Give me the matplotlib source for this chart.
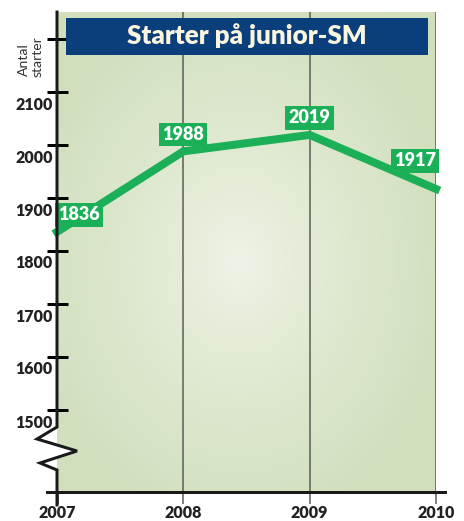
import numpy as np
import matplotlib
matplotlib.use("Agg")
import matplotlib.pyplot as plt
from matplotlib.transforms import Affine2D, ScaledTranslation
from matplotlib.patches import Rectangle, Polygon

# ---- data ----
years = [2007, 2008, 2009, 2010]
starts = [1836, 1988, 2019, 1917]
value_labels = ["1836", "1988", "2019", "1917"]
y_ticks = [1500, 1600, 1700, 1800, 1900, 2000, 2100, 2200]
y_tick_labels = ["1500", "1600", "1700", "1800", "1900", "2000", "2100", ""]
x_tick_labels = ["2007", "2008", "2009", "2010"]
title = "Starter på junior-SM"
ylabel_lines = ["Antal", "starter"]

W, H = 464, 521
DPI = 72
FONT = "Lato"
GREEN = "#1bb057"
NAVY = "#0b3f7c"

fig = plt.figure(figsize=(W / DPI, H / DPI), dpi=DPI)
fig.patch.set_facecolor("white")

PX = Affine2D().scale(1, -1).translate(0, H)

ax_l, ax_r, ax_t, ax_b = 57, 436, 12, 492
ax = fig.add_axes([ax_l / W, (H - ax_b) / H, (ax_r - ax_l) / W, (ax_b - ax_t) / H])
ymin = 1500 - (ax_b - 410) / 53 * 100
ymax = 2100 + (92 - ax_t) / 53 * 100
ax.set_xlim(2007, 2010)
ax.set_ylim(ymin, ymax)

# background radial gradient
ny, nx = 300, 300
yy, xx = np.mgrid[0:1:ny * 1j, 0:1:nx * 1j]
cx, cy = 0.48, 0.52
r = np.sqrt(((xx - cx) / 0.58) ** 2 + ((yy - cy) / 0.58) ** 2)
r = np.clip(r, 0, 1) ** 0.8
c_in = np.array([0xf0, 0xf4, 0xe8]) / 255
c_out = np.array([0xd1, 0xdf, 0xbd]) / 255
img = c_in[None, None, :] * (1 - r[..., None]) + c_out[None, None, :] * r[..., None]
ax.imshow(img, extent=[2007, 2010, ymin, ymax], aspect="auto", origin="upper", zorder=0)

for s in ax.spines.values():
    s.set_visible(False)

ax.set_xticks(years)
ax.set_xticklabels(x_tick_labels, fontsize=16, fontweight="heavy", family=FONT, color="#222222")
ax.grid(axis="x", color="#5a5a52", linewidth=1.5, zorder=1)
ax.grid(axis="y", visible=False)
ax.tick_params(axis="x", direction="out", length=12, width=1.5, color="#5a5a52", pad=1)
xt = ax.xaxis.get_major_ticks()
xt[0].tick1line.set_color("black")
xt[0].tick1line.set_markeredgewidth(3)
xt[0].gridline.set_visible(False)

ax.set_yticks(y_ticks)
ax.set_yticklabels(y_tick_labels, fontsize=16, fontweight="heavy", family=FONT, color="#222222")
ax.tick_params(axis="y", direction="inout", length=21, width=3, color="black", pad=-6)
for lab in ax.get_yticklabels():
    lab.set_transform(lab.get_transform() + ScaledTranslation(0, -11 / DPI, fig.dpi_scale_trans))
    lab.set_zorder(6)

zz = [(57, 427), (37, 439), (77, 451), (40, 463), (57, 470)]
fig.patches.append(Polygon(zz, closed=True, facecolor="white", edgecolor="none",
                           transform=PX, zorder=3))
left_pts = [(57, ax_t)] + zz + [(57, 505)]
xs, ys = zip(*left_pts)
fig.lines.append(plt.Line2D(xs, ys, color="#1a1a1a", linewidth=3, transform=PX, zorder=5,
                            solid_joinstyle="miter"))
fig.lines.append(plt.Line2D([47, 445], [492, 492], color="#1a1a1a", linewidth=3, transform=PX, zorder=5))

ax.plot(years, starts, color=GREEN, linewidth=8, solid_joinstyle="miter", zorder=3, clip_on=False)

offsets = [(22, 17), (0, 17), (0, 17), (-21, 28)]
for x, y, t, (dx, dy) in zip(years, starts, value_labels, offsets):
    ax.annotate(t, (x, y), xytext=(dx, dy), textcoords="offset points", ha="center", va="center",
                fontsize=18, fontweight="heavy", family=FONT, color="white", zorder=7,
                bbox=dict(boxstyle="square,pad=0.18", facecolor=GREEN, edgecolor="none"),
                annotation_clip=False)

fig.patches.append(Rectangle((66, 18), 362, 37, facecolor=NAVY, edgecolor="none", transform=PX, zorder=4))
fig.text(247 / W, 1 - 36 / H, title, ha="center", va="center", fontsize=26, fontweight="heavy",
         family=FONT, color="#fbf5de", zorder=6)

fig.text(24 / W, 1 - 60 / H, ylabel_lines[0], rotation=90, ha="center", va="center",
         fontsize=14, family=FONT, color="#333333")
fig.text(38 / W, 1 - 57 / H, ylabel_lines[1], rotation=90, ha="center", va="center",
         fontsize=14, family=FONT, color="#333333")

fig.savefig("out.png", dpi=DPI, facecolor="white")
